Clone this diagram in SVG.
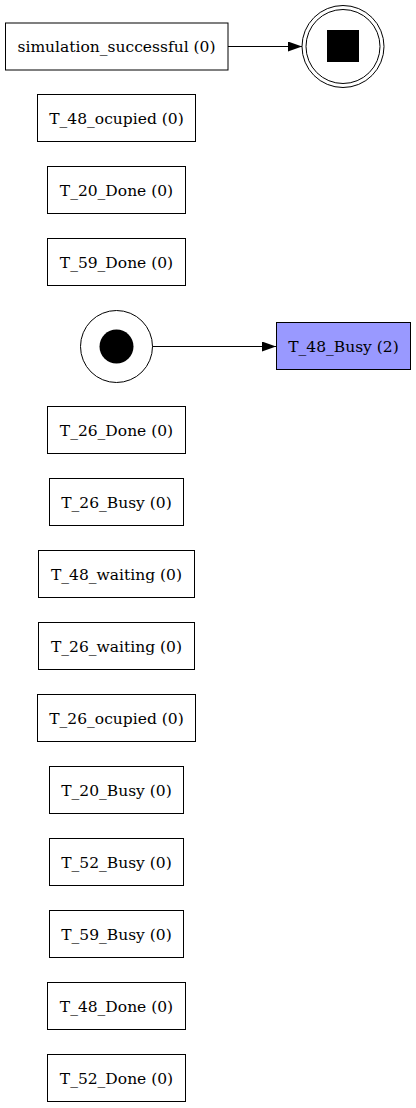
<svg xmlns="http://www.w3.org/2000/svg" width="416" height="1108" viewBox="0 0 416 1108">
<style>
.n rect{fill:#fff;stroke:#000;stroke-width:1}
.n text{font-family:"DejaVu Serif",serif;font-size:15.5px;text-anchor:middle;fill:#000}
.e line{stroke:#000;stroke-width:1}
</style>
<defs>
<marker id="ah" markerWidth="14" markerHeight="10" refX="14" refY="5" orient="auto" markerUnits="userSpaceOnUse">
<path d="M0,0 L14,5 L0,10 Z" fill="#000"/>
</marker>
</defs>
<rect width="416" height="1108" fill="#fff"/>
<g id="edges" class="e">
<line x1="228" y1="46.5" x2="302" y2="46.5" marker-end="url(#ah)"/>
<line x1="152" y1="346.5" x2="276" y2="346.5" marker-end="url(#ah)"/>
</g>
<g id="simulation_successful" class="n"><rect x="5.5" y="23" width="222.5" height="47"/><text x="116.5" y="52">simulation_successful (0)</text></g>
<g id="end"><circle cx="343" cy="46.5" r="41" fill="#fff" stroke="#000"/><circle cx="343" cy="46.5" r="37" fill="none" stroke="#000"/><rect x="327" y="30" width="32" height="32" fill="#000"/></g>
<g id="T_48_ocupied" class="n"><rect x="37.5" y="94.5" width="158" height="47"/><text x="116.5" y="124">T_48_ocupied (0)</text></g>
<g id="T_20_Done" class="n"><rect x="47.5" y="166.5" width="138" height="47"/><text x="116.5" y="196">T_20_Done (0)</text></g>
<g id="T_59_Done" class="n"><rect x="47.5" y="238.5" width="138" height="47"/><text x="116.5" y="268">T_59_Done (0)</text></g>
<g id="start"><circle cx="116.5" cy="346.5" r="36" fill="#fff" stroke="#000"/><circle cx="116.5" cy="346.5" r="17" fill="#000"/></g>
<g id="T_48_Busy" class="n"><rect x="276.5" y="322.5" width="134" height="47" style="fill:#9999ff"/><text x="343.5" y="352">T_48_Busy (2)</text></g>
<g id="T_26_Done" class="n"><rect x="47.5" y="406.5" width="138" height="47"/><text x="116.5" y="436">T_26_Done (0)</text></g>
<g id="T_26_Busy" class="n"><rect x="49.5" y="478.5" width="134" height="47"/><text x="116.5" y="508">T_26_Busy (0)</text></g>
<g id="T_48_waiting" class="n"><rect x="38.5" y="550.5" width="156" height="47"/><text x="116.5" y="580">T_48_waiting (0)</text></g>
<g id="T_26_waiting" class="n"><rect x="38.5" y="622.5" width="156" height="47"/><text x="116.5" y="652">T_26_waiting (0)</text></g>
<g id="T_26_ocupied" class="n"><rect x="37.5" y="694.5" width="158" height="47"/><text x="116.5" y="724">T_26_ocupied (0)</text></g>
<g id="T_20_Busy" class="n"><rect x="49.5" y="766.5" width="134" height="47"/><text x="116.5" y="796">T_20_Busy (0)</text></g>
<g id="T_52_Busy" class="n"><rect x="49.5" y="838.5" width="134" height="47"/><text x="116.5" y="868">T_52_Busy (0)</text></g>
<g id="T_59_Busy" class="n"><rect x="49.5" y="910.5" width="134" height="47"/><text x="116.5" y="940">T_59_Busy (0)</text></g>
<g id="T_48_Done" class="n"><rect x="47.5" y="982.5" width="138" height="47"/><text x="116.5" y="1012">T_48_Done (0)</text></g>
<g id="T_52_Done" class="n"><rect x="47.5" y="1054.5" width="138" height="47"/><text x="116.5" y="1084">T_52_Done (0)</text></g>
</svg>
